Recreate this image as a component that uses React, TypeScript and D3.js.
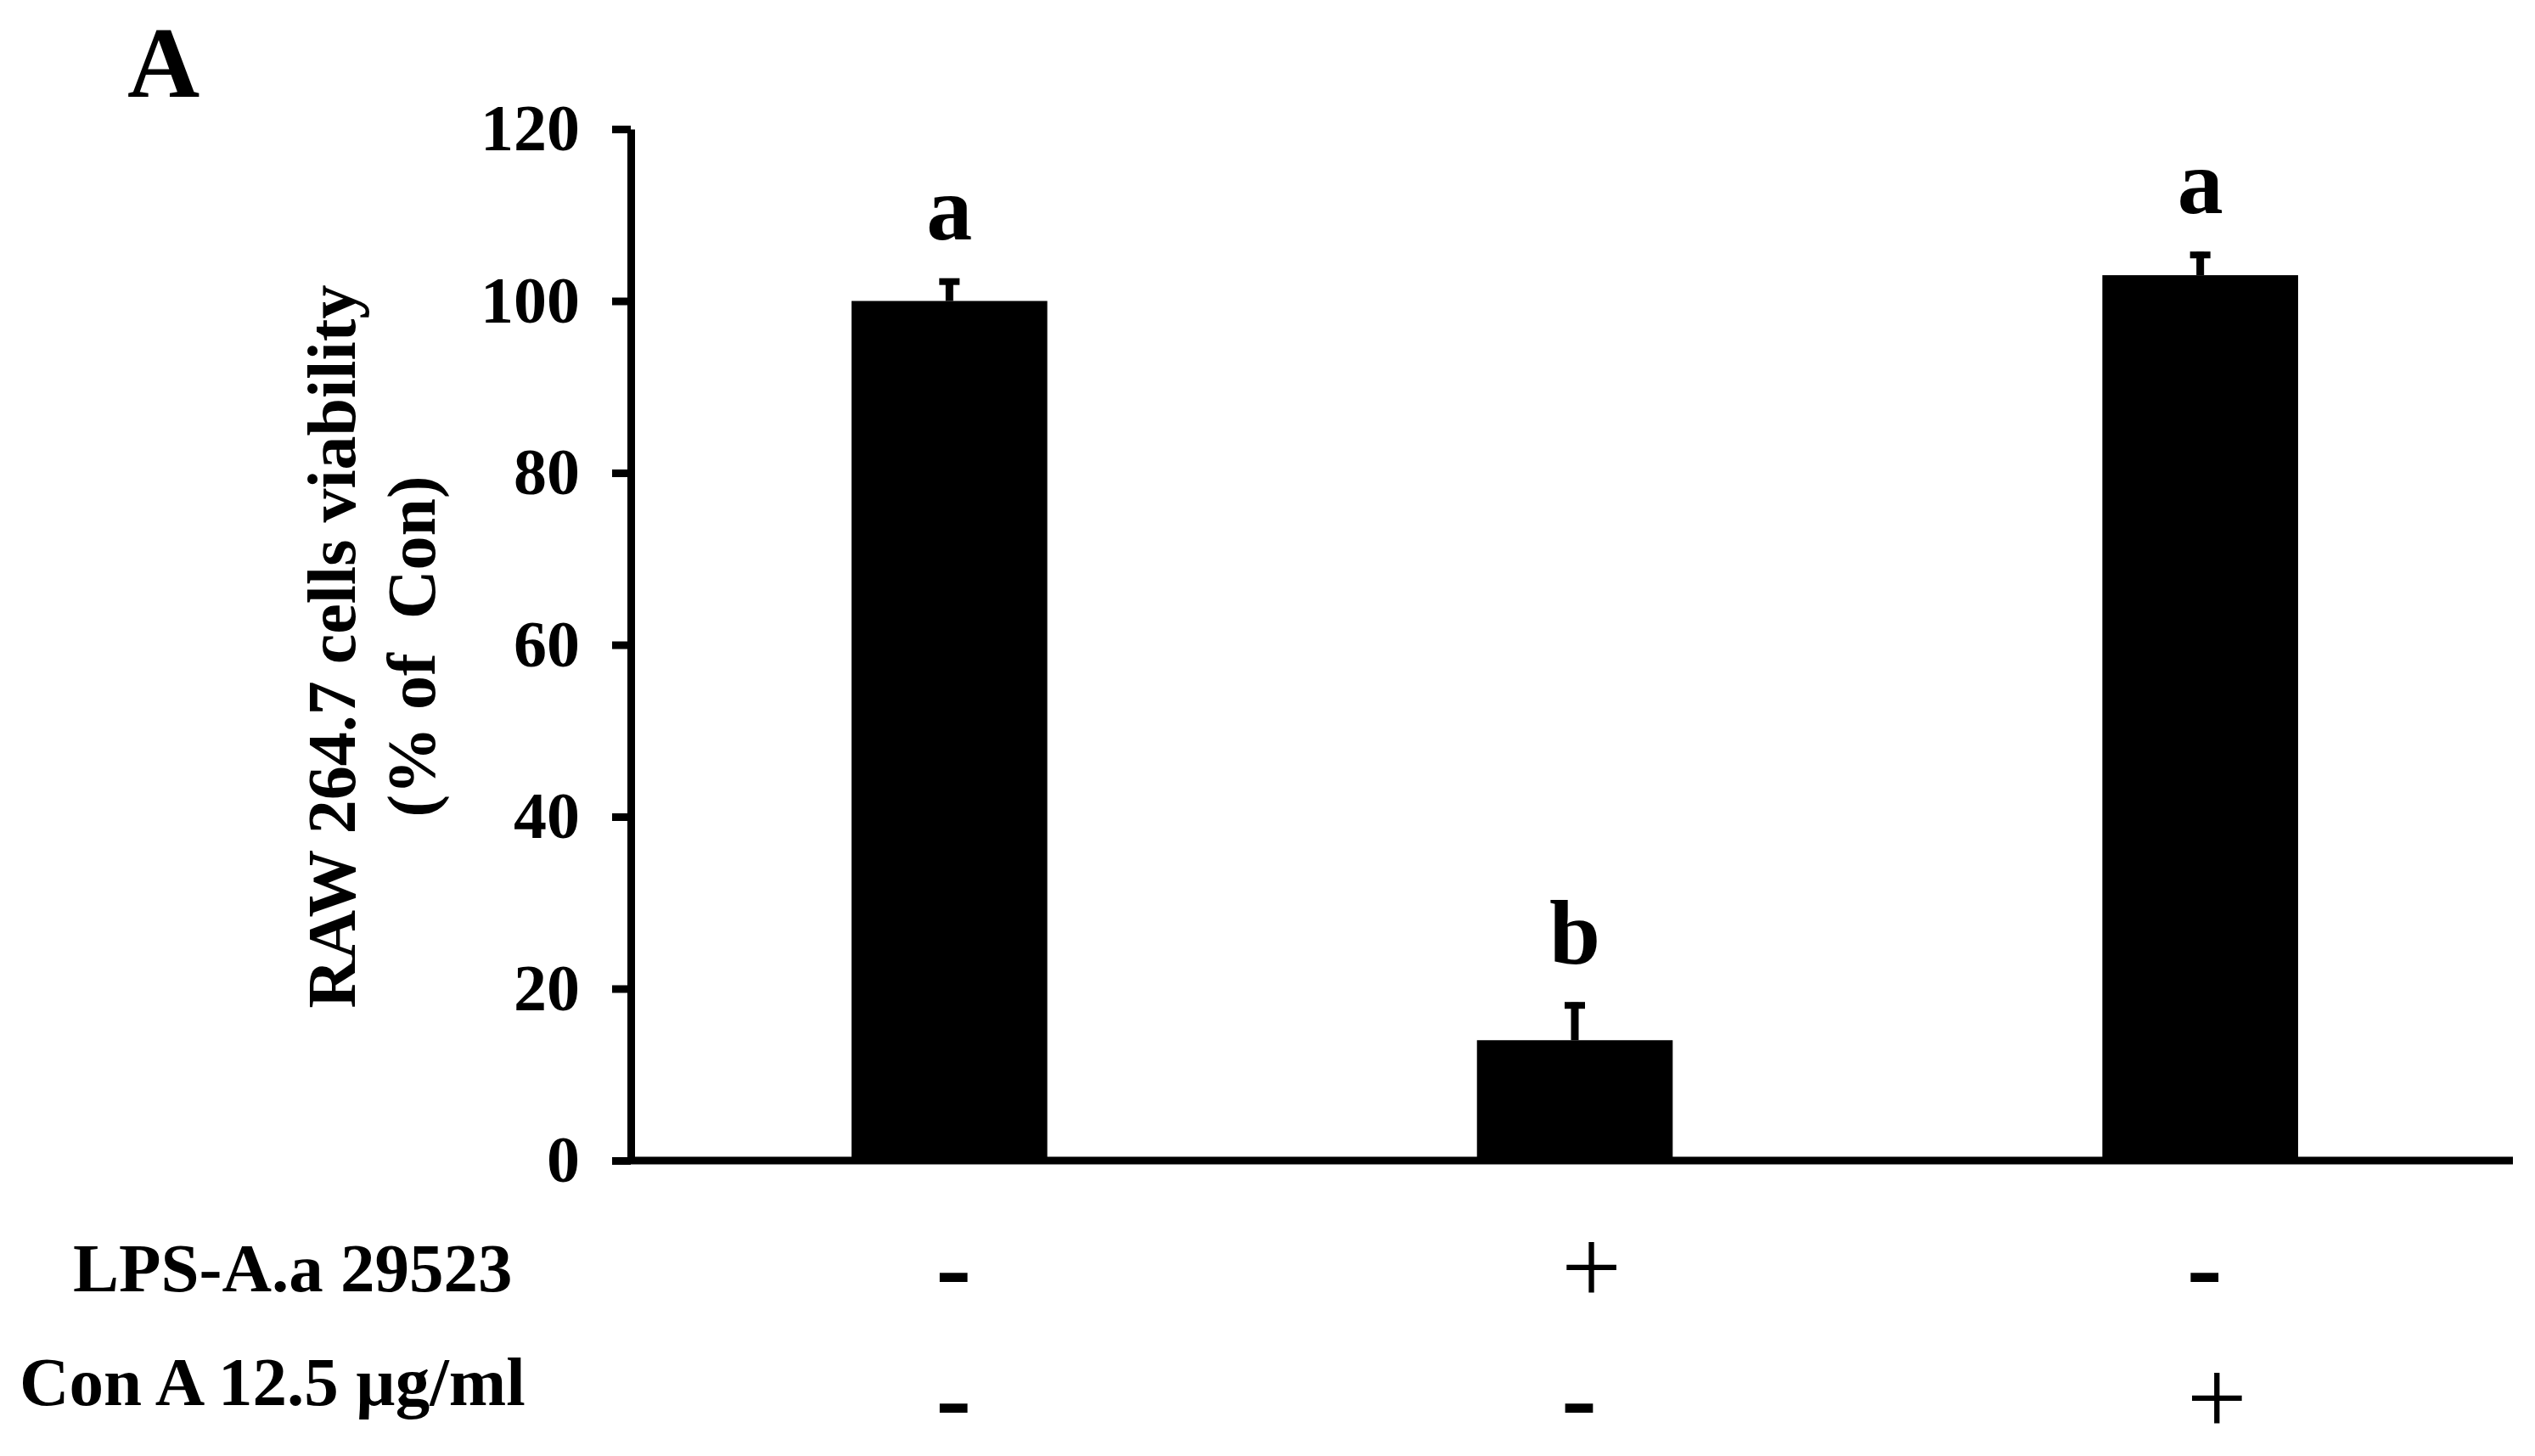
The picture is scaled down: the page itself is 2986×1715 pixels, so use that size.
import React, { useEffect, useRef } from "react";
import * as d3 from "d3";

// data
const groups = ["g1", "g2", "g3"];
const viability = [100, 14, 103];
const errors = [2.6, 4.4, 2.7];
const sigLetters = ["a", "b", "a"];
const lpsRow = ["-", "+", "-"];
const conARow = ["-", "-", "+"];
const yTicks = [0, 20, 40, 60, 80, 100, 120];

const W = 2986;
const H = 1715;
const FONT = "'Liberation Serif', 'Times New Roman', serif";

const App = () => {
  const ref = useRef<SVGSVGElement>(null);

  useEffect(() => {
    document.body.style.margin = "0";
    const svg = d3.select(ref.current);
    svg.selectAll("*").remove();

    const left = 743, right = 2960, top = 152, bottom = 1367;

    const y = d3.scaleLinear().domain([0, 120]).range([bottom, top]);
    // bands start just right of the axis line
    const x = d3.scaleBand().domain(groups).range([left + 7, right]).padding(0);
    const barW = x.step() * 0.313;
    const cx = (i: number) => (x(groups[i]) as number) + x.bandwidth() / 2;

    // bars
    svg.selectAll("rect.bar")
      .data(viability)
      .enter()
      .append("rect")
      .attr("class", "bar")
      .attr("x", (d, i) => cx(i) - barW / 2)
      .attr("y", (d) => y(d))
      .attr("width", barW)
      .attr("height", (d) => bottom - y(d))
      .attr("fill", "#000");

    // error bars (upper only) + letters
    const capW = 24;
    viability.forEach((d, i) => {
      svg.append("line")
        .attr("x1", cx(i)).attr("x2", cx(i))
        .attr("y1", y(d)).attr("y2", y(d + errors[i]))
        .attr("stroke", "#000").attr("stroke-width", 9);
      svg.append("line")
        .attr("x1", cx(i) - capW / 2).attr("x2", cx(i) + capW / 2)
        .attr("y1", y(d + errors[i]) + 3.5).attr("y2", y(d + errors[i]) + 3.5)
        .attr("stroke", "#000").attr("stroke-width", 8);
      svg.append("text")
        .attr("x", cx(i))
        .attr("y", y(d + errors[i]) - 46)
        .attr("text-anchor", "middle")
        .attr("font-family", FONT)
        .attr("font-weight", "bold")
        .attr("font-size", 108)
        .text(sigLetters[i]);
    });

    // y axis
    const yAxis = svg.append("g")
      .attr("transform", `translate(${left},0)`)
      .call(d3.axisLeft(y).tickValues(yTicks).tickSize(22).tickSizeOuter(0).tickPadding(38));
    yAxis.select(".domain").attr("stroke", "#000").attr("stroke-width", 9);
    yAxis.selectAll(".tick line").attr("stroke", "#000").attr("stroke-width", 9);
    yAxis.selectAll(".tick text")
      .attr("font-family", FONT)
      .attr("font-weight", "bold")
      .attr("font-size", 78)
      .attr("fill", "#000");

    // x axis line
    svg.append("line")
      .attr("x1", left - 4).attr("x2", right)
      .attr("y1", bottom).attr("y2", bottom)
      .attr("stroke", "#000").attr("stroke-width", 9);

    // y title, two lines
    const midY = (top + bottom) / 2 + 2;
    svg.append("text")
      .attr("transform", `translate(418,${midY}) rotate(-90)`)
      .attr("text-anchor", "middle")
      .attr("font-family", FONT)
      .attr("font-weight", "bold")
      .attr("font-size", 80)
      .text("RAW 264.7 cells viability");
    svg.append("text")
      .attr("transform", `translate(512,${midY}) rotate(-90)`)
      .attr("text-anchor", "middle")
      .attr("font-family", FONT)
      .attr("font-weight", "bold")
      .attr("font-size", 80)
      .attr("xml:space", "preserve")
      .text("(% of  Con)");

    // panel letter
    svg.append("text")
      .attr("x", 150).attr("y", 114)
      .attr("font-family", FONT)
      .attr("font-weight", "bold")
      .attr("font-size", 118)
      .text("A");

    // treatment rows
    svg.append("text")
      .attr("x", 86).attr("y", 1521)
      .attr("font-family", FONT).attr("font-weight", "bold").attr("font-size", 81)
      .text("LPS-A.a 29523");
    svg.append("text")
      .attr("x", 23).attr("y", 1655)
      .attr("font-family", FONT).attr("font-weight", "bold").attr("font-size", 81)
      .text("Con A 12.5 µg/ml");

    // +/- signs, left aligned a bit left of each bar centre
    const rows: [string[], number][] = [[lpsRow, 1503], [conARow, 1657]];
    rows.forEach(([row, cy]) => {
      svg.selectAll(null)
        .data(row)
        .enter()
        .append("text")
        .attr("x", (d, i) => cx(i) - 16)
        .attr("y", cy + 0.25 * 126)
        .attr("text-anchor", "start")
        .attr("font-family", FONT)
        .attr("font-weight", (d) => (d === "+" ? "normal" : "bold"))
        .attr("font-size", 126)
        .text((d) => d);
    });
  }, []);

  return <svg ref={ref} width={W} height={H} style={{ display: "block", background: "#fff" }} />;
};

export default App;
